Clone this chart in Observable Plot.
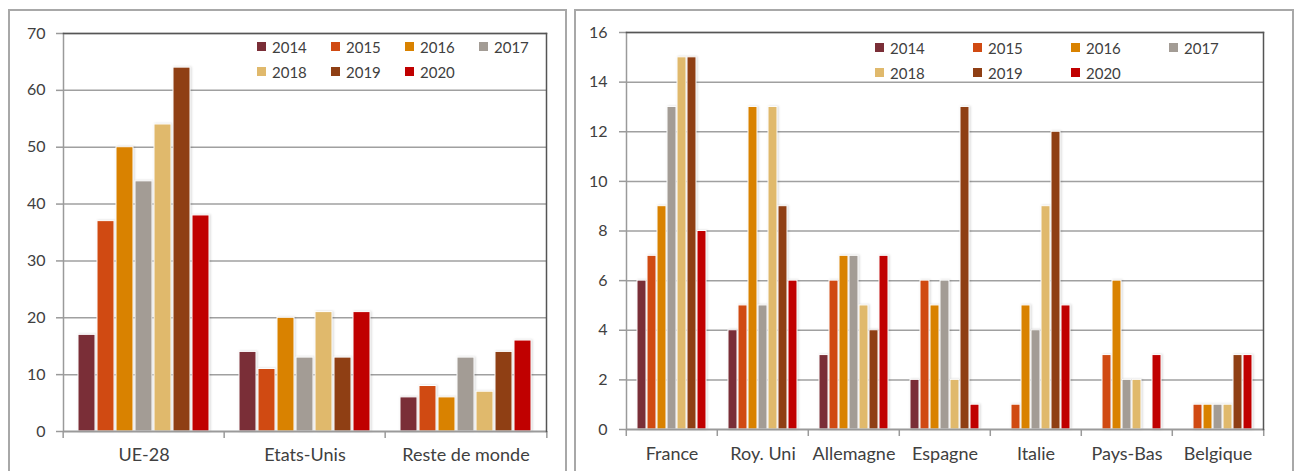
<!DOCTYPE html>
<html>
<head>
<meta charset="utf-8">
<script src="https://cdn.jsdelivr.net/npm/d3@7"></script>
<script src="https://cdn.jsdelivr.net/npm/@observablehq/plot@0.6"></script>
<style>
  body { margin: 0; background: #fff; }
  #root { position: relative; width: 1296px; height: 471px; overflow: hidden; font-family: Lato, sans-serif; }
  .panel { position: absolute; border: 2px solid #a8a8a8; box-sizing: border-box; }
  .chart { position: absolute; top: 0; }
  .chart g[aria-label="bar"] rect { filter: drop-shadow(1.5px 0.5px 1px rgba(0,0,0,0.16)); }
  .legend-box { position: absolute; font-family: Lato, sans-serif; font-size: 15px; color: #404040; }
  .lg-swatches { margin: 0 !important; min-height: 0 !important; row-gap: 0; }
  .lg-swatch { margin: 0 !important; height: 25px; }
  .lg-swatch > svg { margin-right: 6px !important; }
</style>
</head>
<body>
<div id="root"></div>
<script>
// ---------- data ----------
const years = ["2014", "2015", "2016", "2017", "2018", "2019", "2020"];
const yearColors = ["#7a2e37", "#d04a12", "#d98200", "#a39c95", "#e0b96c", "#8f3f14", "#c00000"];

// left chart
const leftCategories = ["UE-28", "Etats-Unis", "Reste de monde"];
const ue28 = [17, 37, 50, 44, 54, 64, 38];
const etatsUnis = [14, 11, 20, 13, 21, 13, 21];
const resteMonde = [6, 8, 6, 13, 7, 14, 16];
const leftTicks = [0, 10, 20, 30, 40, 50, 60, 70];

// right chart
const rightCategories = ["France", "Roy. Uni", "Allemagne", "Espagne", "Italie", "Pays-Bas", "Belgique"];
const france = [6, 7, 9, 13, 15, 15, 8];
const royUni = [4, 5, 13, 5, 13, 9, 6];
const allemagne = [3, 6, 7, 7, 5, 4, 7];
const espagne = [2, 6, 5, 6, 2, 13, 1];
const italie = [0, 1, 5, 4, 9, 12, 5];
const paysBas = [0, 3, 6, 2, 2, 0, 3];
const belgique = [0, 1, 1, 1, 1, 3, 3];
const rightTicks = [0, 2, 4, 6, 8, 10, 12, 14, 16];

// ---------- helpers ----------
function toRows(categories, seriesList) {
  const rows = [];
  categories.forEach((cat, ci) => {
    years.forEach((yr, yi) => rows.push({cat, year: yr, value: seriesList[ci][yi]}));
  });
  return rows;
}

function makeChart(opts) {
  const {categories, rows, ticks, width, height, ml, mr, mt, mb, tickPadding, labelPadding} = opts;
  const fw = (width - ml - mr) / categories.length;
  return Plot.plot({
    width, height,
    marginLeft: ml, marginRight: mr, marginTop: mt, marginBottom: mb,
    style: {fontFamily: "Lato, sans-serif", fontSize: "16px", color: "#404040", overflow: "visible"},
    fx: {domain: categories, padding: 0, axis: null, label: null},
    x: {domain: years, paddingInner: 0.12, paddingOuter: 0.78, axis: null},
    y: {domain: [0, ticks[ticks.length - 1]], axis: null},
    color: {domain: years, range: yearColors},
    marks: [
      Plot.ruleY(ticks.filter(t => t > 0), {stroke: "#a0a0a0", strokeWidth: 1.5}),
      Plot.barY(rows, {fx: "cat", x: "year", y: "value", fill: "year", stroke: "#fff", strokeWidth: 1}),
      Plot.ruleY([0], {stroke: "#9a9a9a", strokeWidth: 2}),
      Plot.axisY({ticks, tickSize: 7, tickPadding, stroke: "#9a9a9a", strokeWidth: 1.5, label: null, fontSize: 16, fill: "#404040"}),
      Plot.axisFx({anchor: "bottom", tickSize: 0, tickPadding: labelPadding, label: null, fontSize: 18, fill: "#404040"}),
      Plot.axisFx({anchor: "bottom", tickSize: 7, text: null, label: null, dx: -fw / 2, stroke: "#9a9a9a", strokeWidth: 1.5}),
      Plot.axisFx({anchor: "bottom", ticks: [categories[categories.length - 1]], tickSize: 7, text: null, label: null, dx: fw / 2, stroke: "#9a9a9a", strokeWidth: 1.5}),
      Plot.frame({facet: "super", anchor: "left", stroke: "#9a9a9a", strokeWidth: 1.5}),
      Plot.frame({facet: "super", anchor: "top", stroke: "#555", strokeWidth: 1.5}),
      Plot.frame({facet: "super", anchor: "right", stroke: "#555", strokeWidth: 1.5})
    ]
  });
}

function makeLegend(colWidth) {
  const lg = Plot.legend({
    color: {domain: years, range: yearColors},
    legend: "swatches",
    swatchSize: 9,
    className: "lg",
    style: {fontFamily: "Lato, sans-serif", fontSize: "15px", color: "#404040"}
  });
  lg.querySelectorAll(".lg-swatch").forEach(s => { s.style.width = colWidth + "px"; });
  return lg;
}

// ---------- layout ----------
const root = document.getElementById("root");

const leftPanel = document.createElement("div");
leftPanel.className = "panel";
Object.assign(leftPanel.style, {left: "8px", top: "9px", width: "559px", height: "480px"});
root.appendChild(leftPanel);

const rightPanel = document.createElement("div");
rightPanel.className = "panel";
Object.assign(rightPanel.style, {left: "574px", top: "9px", width: "720px", height: "480px"});
root.appendChild(rightPanel);

const leftChart = makeChart({
  categories: leftCategories,
  rows: toRows(leftCategories, [ue28, etatsUnis, resteMonde]),
  ticks: leftTicks,
  width: 570, height: 471, ml: 62, mr: 23, mt: 33, mb: 40,
  tickPadding: 11, labelPadding: 17
});
leftChart.classList.add("chart");
leftChart.style.left = "0px";
root.appendChild(leftChart);

const rightChart = makeChart({
  categories: rightCategories,
  rows: toRows(rightCategories, [france, royUni, allemagne, espagne, italie, paysBas, belgique]),
  ticks: rightTicks,
  width: 726, height: 471, ml: 54, mr: 32, mt: 32, mb: 42,
  tickPadding: 12, labelPadding: 18
});
rightChart.classList.add("chart");
rightChart.style.left = "570px";
root.appendChild(rightChart);

const leftLegend = document.createElement("div");
leftLegend.className = "legend-box";
Object.assign(leftLegend.style, {left: "257px", top: "34px", width: "300px"});
leftLegend.appendChild(makeLegend(74));
root.appendChild(leftLegend);

const rightLegend = document.createElement("div");
rightLegend.className = "legend-box";
Object.assign(rightLegend.style, {left: "875px", top: "35px", width: "400px"});
rightLegend.appendChild(makeLegend(98));
root.appendChild(rightLegend);
</script>
</body>
</html>
